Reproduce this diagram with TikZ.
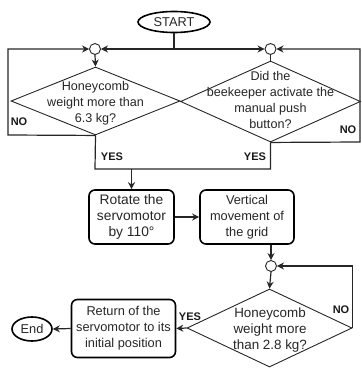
\documentclass[tikz,border=0pt]{standalone}
\usepackage{fontspec}
\setmainfont{Liberation Sans}
\usetikzlibrary{shapes.geometric,arrows.meta}
\tikzset{
  txt/.style={font=\fontsize{12.6}{16}\selectfont, align=center, text=black!85, inner sep=0pt},
  lbl/.style={font=\fontsize{11}{13}\selectfont\bfseries, text=black!90, inner sep=0pt},
  dec/.style={draw=black!85, line width=0.9pt, shape=diamond, inner sep=0pt},
  proc/.style={draw=black, line width=1.6pt, rounded corners=6pt, inner sep=0pt, align=center,
               font=\fontsize{12.8}{16}\selectfont, text=black!85},
  term/.style={draw=black, line width=1.6pt, ellipse, inner sep=0pt,
               font=\fontsize{12.8}{16}\selectfont, text=black!85},
  junc/.style={draw=black!85, line width=0.9pt, circle, fill=white, minimum size=11pt, inner sep=0pt},
  con/.style={draw=black!85, line width=1.2pt},
  arr/.style={con, -{Stealth[length=7pt,width=7pt]}}
}
\begin{document}
\begin{tikzpicture}[x=1pt,y=-1pt]
\useasboundingbox (0,0) rectangle (361,369);

% terminals
\node[term, minimum width=72pt, minimum height=21pt] (start) at (174,22) {START};
\node[term, minimum width=40pt, minimum height=24pt] (end) at (32,329) {End};

% junctions
\node[junc] (c1) at (95,49) {};
\node[junc] (c2) at (270.5,49) {};
\node[junc] (c3) at (271,266) {};

% decisions
\node[dec, minimum width=169pt, minimum height=68pt] (d1) at (95.5,101) {};
\node[txt] (t1) at (95.5,103) {Honeycomb\\weight more than\\6.3 kg?};
\node[dec, minimum width=180pt, minimum height=81pt] (d2) at (270.5,101.5) {};
\node[txt] (t2) at (270.5,99.5) {Did the\\beekeeper activate the\\manual push\\button?};
\node[dec, minimum width=165pt, minimum height=78pt] (d3) at (269.5,328) {};
\node[txt, font=\fontsize{13.4}{16}\selectfont] (t3) at (270,330) {Honeycomb\\weight more\\than 2.8 kg?};

% processes
\node[proc, minimum width=85pt, minimum height=54pt, font=\fontsize{13.8}{16.2}\selectfont] (b1) at (131.5,217) {Rotate the\\servomotor\\by 110°};
\node[proc, minimum width=94pt, minimum height=54pt] (b2) at (247,217) {Vertical\\movement of\\the grid};
\node[proc, minimum width=104pt, minimum height=58pt] (b3) at (123.5,328.5) {Return of the\\servomotor to its\\initial position};

% helper coordinates
\coordinate (j0) at (start.south |- c1);
\coordinate (l1) at (8,135);
\coordinate (l2) at (8,49);
\coordinate (r1) at (360,142);
\coordinate (r2) at (360,49);
\coordinate (y1) at (95,169);
\coordinate (y2) at (270.5,169);
\coordinate (y3) at (b1.north |- y1);

% connectors
\draw[con] (start.south) -- (j0);
\draw[arr] (j0) -- (c1.east);
\draw[arr] (j0) -- (c2.west);
\draw[arr] (c1.south) -- (d1.north);
\draw[con] (c2.south) -- (d2.north);
\draw[arr] (d1.south) -- (l1) -- (l2) -- (c1.west);
\draw[arr] (d2.south) -- (r1) -- (r2) -- (c2.east);
\draw[con] (d1.south) -- (y1) -- (y2) -- (d2.south);
\draw[arr] (y3) -- (b1.north);
\draw[arr] (b1.east) -- (b2.west);
\draw[arr] (b2.south -| c3) -- (c3.north);
\draw[arr] (c3.south) -- (d3.north);
\draw[arr] (d3.east) -- (d3.east |- c3) -- (c3.east);
\draw[arr] (d3.west) -- (b3.east);
\draw[arr] (b3.west) -- (end.east);

% labels
\node[lbl] (n1) at (19,122) {NO};
\node[lbl] (n2) at (348,130) {NO};
\node[lbl] (y1l) at (112,157) {YES};
\node[lbl] (y2l) at (255,157) {YES};
\node[lbl] (y3l) at (190,317) {YES};
\node[lbl] (n3) at (341,310) {NO};
\end{tikzpicture}
\end{document}
